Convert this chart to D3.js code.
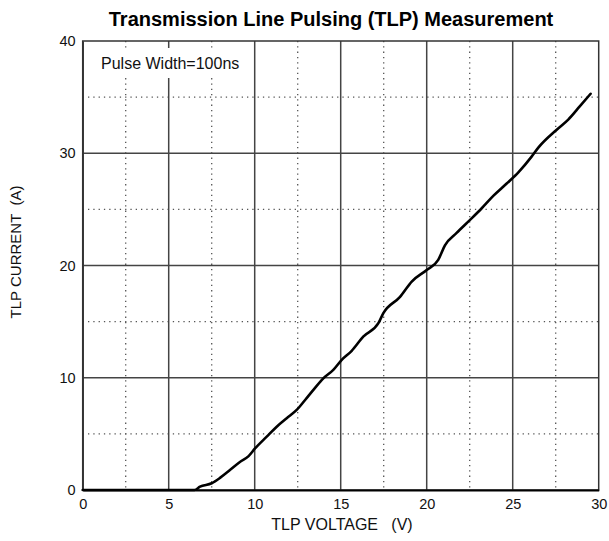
<!DOCTYPE html>
<html><head><meta charset="utf-8">
<script src="https://cdn.jsdelivr.net/npm/d3@7"></script>
<style>body{margin:0;background:#fff}svg{display:block}text{font-family:"Liberation Sans",Arial,sans-serif}</style>
</head><body>
<svg id="c" width="609" height="541"></svg>
<script>
const title = "Transmission Line Pulsing (TLP) Measurement";
const xLabel = "TLP VOLTAGE   (V)";
const yLabel = "TLP CURRENT  (A)";
const note = "Pulse Width=100ns";
const xTicks = [0,5,10,15,20,25,30];
const yTicks = [0,10,20,30,40];
const xMinor = [2.5,7.5,12.5,17.5,22.5,27.5];
const yMinor = [5,15,25,35];
const voltage = [0,6.5,6.82,7.5,8.0,8.56,9.14,9.63,10.02,10.7,11.28,11.86,12.44,12.93,13.4,13.99,14.57,15.06,15.64,16.31,17.19,17.48,18.45,19.13,20.0,20.67,21.06,21.74,22.52,23.2,23.87,24.65,25.33,26.1,26.49,27.56,28.23,28.91,29.53];
const current = [0,0,0.3,0.6,1.1,1.78,2.5,3.0,3.7,4.75,5.64,6.39,7.13,8.02,8.9,9.95,10.7,11.6,12.4,13.66,14.86,15.75,17.2,18.57,19.6,20.5,21.8,22.9,24.06,25.1,26.2,27.3,28.3,29.7,30.5,32.1,33.0,34.2,35.3];

const svg = d3.select("#c");
const L=82.7, R=598.7, T=41, B=490;
const x = d3.scaleLinear().domain([0,30]).range([L,R]);
const y = d3.scaleLinear().domain([0,40]).range([B,T]);

// minor dotted grid
svg.append("g").selectAll("line").data(xMinor).join("line")
  .attr("x1",d=>x(d)).attr("x2",d=>x(d)).attr("y1",T).attr("y2",B)
  .attr("stroke","#555").attr("stroke-width",1.3).attr("stroke-dasharray","1.3,4");
svg.append("g").selectAll("line").data(yMinor).join("line")
  .attr("y1",d=>y(d)).attr("y2",d=>y(d)).attr("x1",L).attr("x2",R)
  .attr("stroke","#555").attr("stroke-width",1.3).attr("stroke-dasharray","1.3,4");
// major grid
svg.append("g").selectAll("line").data(xTicks.slice(1,-1)).join("line")
  .attr("x1",d=>x(d)).attr("x2",d=>x(d)).attr("y1",T).attr("y2",B)
  .attr("stroke","#444").attr("stroke-width",1.5);
svg.append("g").selectAll("line").data(yTicks.slice(1,-1)).join("line")
  .attr("y1",d=>y(d)).attr("y2",d=>y(d)).attr("x1",L).attr("x2",R)
  .attr("stroke","#444").attr("stroke-width",1.5);

// note box
svg.append("rect").attr("x",92).attr("y",48).attr("width",156).attr("height",30).attr("fill","#fff");
svg.append("text").attr("x",101).attr("y",69).attr("font-size",16).attr("fill","#111").text(note);

// frame
svg.append("rect").attr("x",L).attr("y",T).attr("width",R-L).attr("height",B-T)
  .attr("fill","none").attr("stroke","#333").attr("stroke-width",1.5);

// axes
const xa = svg.append("g").attr("transform",`translate(0,${B})`)
  .call(d3.axisBottom(x).tickValues(xTicks).tickSize(0).tickPadding(8.5).tickFormat(d3.format("d")));
xa.select(".domain").attr("stroke","#000").attr("stroke-width",2);
xa.selectAll("text").attr("font-size",14.5).attr("fill","#111").attr("font-family","Liberation Sans, Arial, sans-serif");
const ya = svg.append("g").attr("transform",`translate(${L},0)`)
  .call(d3.axisLeft(y).tickValues(yTicks).tickSize(0).tickPadding(7).tickFormat(d3.format("d")));
ya.select(".domain").attr("stroke","#333").attr("stroke-width",1.5);
ya.selectAll("text").attr("font-size",14.5).attr("fill","#111").attr("font-family","Liberation Sans, Arial, sans-serif");

// curve
const line = d3.line().x((d,i)=>x(voltage[i])).y((d,i)=>y(current[i])).curve(d3.curveMonotoneX);
svg.append("path").datum(current).attr("d",line).attr("fill","none")
  .attr("stroke","#000").attr("stroke-width",2.6).attr("stroke-linejoin","round").attr("stroke-linecap","round");

// titles
svg.append("text").attr("x",331).attr("y",26).attr("text-anchor","middle")
  .attr("font-size",20).attr("font-weight","bold").attr("fill","#000").text(title);
svg.append("text").attr("x",342).attr("y",530).attr("text-anchor","middle")
  .attr("font-size",16).attr("fill","#111").style("white-space","pre").text(xLabel);
svg.append("text").attr("transform","translate(21,252) rotate(-90)").attr("text-anchor","middle")
  .attr("font-size",15).attr("fill","#111").style("white-space","pre").text(yLabel);
</script>
</body></html>
